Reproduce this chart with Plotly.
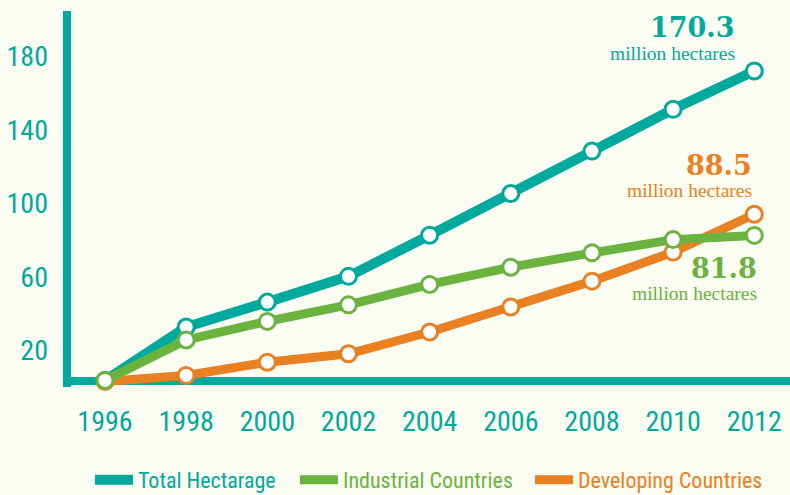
import plotly.graph_objects as go

years = [1996, 1998, 2000, 2002, 2004, 2006, 2008, 2010, 2012]
total = [3.6, 32.6, 46.2, 60.2, 82.6, 105.3, 128.4, 151.1, 172.0]
industrial = [3.6, 25.6, 35.7, 44.7, 55.8, 65.2, 73.0, 80.2, 82.5]
developing = [3.0, 6.3, 13.5, 18.1, 29.9, 43.5, 57.6, 73.4, 94.0]
y_ticks = [20, 60, 100, 140, 180]
labels_2012 = ["170.3", "81.8", "88.5"]

TEAL = "#00A99D"
GREEN = "#6BB33F"
ORANGE = "#E98021"
BG = "#FBFCF2"
SANS = "Roboto Condensed, Liberation Sans Narrow, DejaVu Sans Condensed, sans-serif"
SERIF = "Liberation Serif, DejaVu Serif, serif"
BOLDSERIF = "DejaVu Serif, serif"

fig = go.Figure()

# drawing order: total, developing, industrial (industrial on top)
series = [
    ("Total Hectarage", total, TEAL, 10, "legend"),
    ("Developing Countries", developing, ORANGE, 9, "legend3"),
    ("Industrial Countries", industrial, GREEN, 9, "legend2"),
]
for name, vals, col, lw, lg in series:
    fig.add_trace(go.Scatter(
        x=years, y=vals, mode="lines", name=name, legend=lg,
        line=dict(color=col, width=lw), cliponaxis=False, hoverinfo="skip"))
    fig.add_trace(go.Scatter(
        x=years, y=vals, mode="markers", showlegend=False,
        marker=dict(size=16, color="white", line=dict(color=col, width=3)),
        cliponaxis=False, name=name))

# end labels
ann = [
    (total[-1], labels_2012[0], TEAL, -17, 43, -17, 17),
    (developing[-1], labels_2012[2], ORANGE, 0, 49, 0, 24),
    (industrial[-1], labels_2012[1], GREEN, 5, -33, 5, -58),
]
for yv, txt, col, xs1, ys1, xs2, ys2 in ann:
    fig.add_annotation(x=years[-1], y=yv, xref="x", yref="y", text="<b>" + txt + "</b>",
                       showarrow=False, xanchor="right", yanchor="middle",
                       xshift=xs1, yshift=ys1,
                       font=dict(family=BOLDSERIF, size=27, color=col))
    fig.add_annotation(x=years[-1], y=yv, xref="x", yref="y", text="million hectares",
                       showarrow=False, xanchor="right", yanchor="middle",
                       xshift=xs2, yshift=ys2,
                       font=dict(family=SERIF, size=19.5, color=col))

# axis lines
fig.add_shape(type="line", xref="paper", yref="paper", x0=0.0055, x1=0.0055, y0=1.0, y1=0.0,
              line=dict(color=TEAL, width=8), layer="below")
fig.add_shape(type="line", xref="paper", yref="paper", x0=0.0, x1=1.0, y0=0.016, y1=0.016,
              line=dict(color=TEAL, width=8), layer="below")


def legend_box(xpos, col):
    return dict(orientation="h", x=xpos, y=-0.247, xanchor="left", yanchor="middle",
                font=dict(family=SANS, size=22, color=col), itemwidth=38,
                bgcolor="rgba(0,0,0,0)")


fig.update_layout(
    width=790, height=495,
    margin=dict(l=63, r=0, t=11, b=108, autoexpand=False),
    paper_bgcolor=BG, plot_bgcolor=BG,
    showlegend=True,
    legend=legend_box(0.0371, TEAL),
    legend2=legend_box(0.319, GREEN),
    legend3=legend_box(0.6424, ORANGE),
    xaxis=dict(range=[1994.965, 2012.88], tickvals=years, ticktext=[str(y) for y in years],
               showgrid=False, zeroline=False, showline=False, ticks="",
               tickfont=dict(family=SANS, size=28, color=TEAL), ticklabelstandoff=15),
    yaxis=dict(range=[0, 204.6], tickvals=y_ticks, showgrid=False, zeroline=False,
               showline=False, ticks="",
               tickfont=dict(family=SANS, size=28, color=TEAL), ticklabelstandoff=14),
)

fig.write_html("out.html", config={"displayModeBar": False},
               post_script="document.body.style.margin='0';document.body.style.background='" + BG + "';")
